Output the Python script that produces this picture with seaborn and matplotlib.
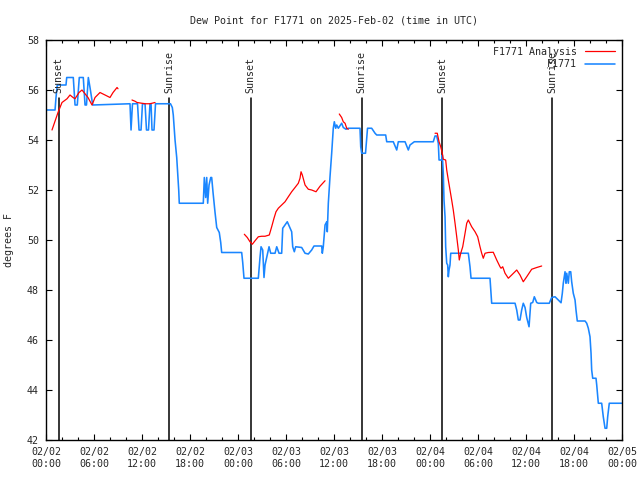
import numpy as np
import pandas as pd
import matplotlib
matplotlib.use('Agg')
import matplotlib.pyplot as plt
import matplotlib.dates as mdates
from matplotlib.lines import Line2D
import seaborn as sns

# hours since 2025-02-02 00:00 UTC
obs_hours = [0.0, 1.13, 1.25, 1.41, 2.5, 2.59, 3.41, 3.63, 3.91, 4.16, 4.66, 4.88, 5.06, 5.29, 5.5, 5.84,
             10.5, 10.63, 10.81, 11.44, 11.63, 11.88, 12.06, 12.38, 12.56, 12.81, 13.0, 13.13, 13.25, 13.5,
             13.69, 15.56, 15.79, 15.91, 16.13, 16.34, 16.46, 16.59, 16.66, 19.66, 19.79, 19.96, 20.09,
             20.21, 20.38, 20.59, 20.71, 20.88, 21.13, 21.34, 21.66, 21.84, 21.96, 24.46, 24.59, 24.75,
             26.54, 26.75, 26.88, 27.09, 27.25, 27.38, 27.59, 27.88, 28.09, 28.63, 28.84, 29.13, 29.46,
             29.59, 29.88, 30.16, 30.41, 30.71, 30.84, 31.04, 31.21, 31.96, 32.38, 32.79, 33.21, 33.5,
             34.46, 34.54, 34.66, 34.88, 35.09, 35.16, 35.29, 35.5, 35.71, 35.91, 36.04, 36.21, 36.34,
             36.54, 36.75, 36.96, 37.16, 37.5, 37.79, 39.25, 39.34, 39.46, 39.94, 40.19, 40.71, 41.13,
             41.34, 42.46, 42.59, 43.41, 43.84, 44.04, 44.88, 45.29, 45.5, 46.04, 48.41, 48.63, 48.84,
             49.04, 49.13, 49.46, 49.54, 49.66, 49.75, 49.88, 49.96, 50.09, 50.21, 50.29, 50.38, 50.5,
             50.59, 52.79, 53.0, 53.13, 55.5, 55.71, 58.63, 58.84, 59.04, 59.25, 59.46, 59.66, 59.88,
             60.09, 60.38, 60.59, 60.84, 61.04, 61.34, 61.54, 62.91, 63.21, 63.63, 64.04, 64.38, 64.54,
             64.66, 64.88, 65.0, 65.09, 65.29, 65.41, 65.59, 65.71, 65.91, 66.13, 66.25, 66.41, 67.38,
             67.59, 67.79, 68.0, 68.13, 68.21, 68.34, 68.75, 68.84, 69.04, 69.46, 69.66, 69.88, 70.09,
             70.21, 70.41, 72.0]
obs_dewpt = [55.2, 55.2, 55.7, 56.2, 56.2, 56.5, 56.5, 55.4, 55.4, 56.5, 56.5, 55.4, 55.4, 56.5, 56.1, 55.4,
             55.45, 54.4, 55.45, 55.45, 54.4, 54.4, 55.45, 55.45, 54.4, 54.4, 55.45, 55.45, 54.4, 54.4,
             55.45, 55.45, 55.3, 55.0, 54.0, 53.3, 52.7, 52.0, 51.47, 51.47, 52.5, 51.7, 52.5,
             51.47, 52.2, 52.5, 52.5, 51.9, 51.1, 50.5, 50.3, 49.9, 49.5, 49.5, 49.1, 48.47,
             48.47, 49.3, 49.73, 49.6, 48.5, 49.0, 49.3, 49.73, 49.47, 49.47, 49.73, 49.47, 49.47,
             50.47, 50.6, 50.73, 50.55, 50.33, 49.73, 49.53, 49.73, 49.7, 49.47, 49.44, 49.6, 49.76,
             49.76, 49.47, 49.73, 50.6, 50.73, 50.33, 51.47, 52.53, 53.47, 54.47, 54.73, 54.47, 54.6,
             54.47, 54.57, 54.67, 54.5, 54.43, 54.47, 54.47, 53.73, 53.47, 53.47, 54.47, 54.47, 54.27,
             54.2, 54.2, 53.93, 53.93, 53.6, 53.93, 53.93, 53.6, 53.8, 53.93, 53.93, 54.16, 54.16,
             53.87, 53.2, 53.2, 53.4, 52.67, 51.6, 50.93, 49.73, 49.07, 49.0, 48.53, 48.8, 49.0,
             49.47, 49.47, 48.93, 48.47, 48.47, 47.47, 47.47, 47.2, 46.8, 46.8, 47.2, 47.47, 47.3,
             46.9, 46.53, 47.47, 47.5, 47.73, 47.5, 47.47, 47.47, 47.7, 47.73, 47.6, 47.49, 47.87,
             48.27, 48.73, 48.27, 48.67, 48.27, 48.73, 48.73, 48.33, 47.87, 47.6, 47.2, 46.76, 46.76,
             46.67, 46.47, 46.13, 45.47, 44.8, 44.47, 44.47, 44.2, 43.47, 43.47, 42.93, 42.47, 42.47,
             42.93, 43.47, 43.47]

# analysis series, NaN marks a gap
ana_hours = [0.75, 1.5, 2.0, 2.63, 3.0, 3.38, 3.63, 4.13, 4.5, 5.25, 5.75, 6.13, 6.75, 7.38, 8.0, 8.38,
             8.88, 9.0, np.nan,
             10.75, 11.13, 11.38, 12.38, 13.0, 13.63, np.nan,
             24.79, 25.16, 25.5, 25.79, 26.13, 26.54, 26.96, 27.38, 27.91, 28.21, 28.5, 28.75, 29.04,
             29.46, 29.88, 30.29, 30.71, 31.13, 31.54, 31.75, 31.88, 32.04, 32.38, 32.79, 33.21, 33.75,
             34.25, 34.88, np.nan,
             36.66, 36.96, 37.16, 37.38, 37.59, 37.79, np.nan,
             48.63, 48.91, 49.13, 49.34, 49.54, 49.66, 49.96, 50.09, 50.29, 50.5, 50.71, 50.91, 51.13,
             51.34, 51.54, 51.66, 51.84, 52.09, 52.38, 52.59, 52.79, 53.21, 53.63, 53.96, 54.25, 54.46,
             54.66, 54.88, 55.29, 55.91, 56.34, 56.75, 56.88, 57.09, 57.38, 57.79, 58.21, 58.84, 59.25,
             59.66, 60.09, 60.71, 61.34, 61.96]
ana_dewpt = [54.4, 55.1, 55.5, 55.65, 55.8, 55.7, 55.65, 55.9, 56.0, 55.7, 55.4, 55.7, 55.9, 55.8, 55.7, 55.9,
             56.1, 56.05, np.nan,
             55.6, 55.55, 55.5, 55.45, 55.45, 55.5, np.nan,
             50.23, 50.1, 49.93, 49.83, 49.97, 50.13, 50.15, 50.15, 50.2, 50.53, 50.87, 51.13, 51.27,
             51.4, 51.53, 51.73, 51.93, 52.1, 52.27, 52.47, 52.73, 52.6, 52.2, 52.03, 52.0, 51.93,
             52.15, 52.37, np.nan,
             55.04, 54.9, 54.73, 54.67, 54.47, 54.43, np.nan,
             54.27, 54.27, 53.93, 53.73, 53.47, 53.23, 53.2, 52.8, 52.4, 52.0, 51.6, 51.2, 50.67,
             50.13, 49.6, 49.2, 49.47, 49.73, 50.27, 50.67, 50.8, 50.53, 50.33, 50.13, 49.73, 49.47,
             49.27, 49.47, 49.5, 49.51, 49.2, 48.93, 48.87, 48.93, 48.67, 48.47, 48.6, 48.8, 48.6,
             48.33, 48.53, 48.83, 48.9, 48.96]

event_labels = ['Sunset', 'Sunrise', 'Sunset', 'Sunrise', 'Sunset', 'Sunrise']
event_hours = [1.6, 15.42, 25.59, 39.46, 49.54, 63.29]

t0 = pd.Timestamp('2025-02-02 00:00')

obs = pd.DataFrame({'time': t0 + pd.to_timedelta(obs_hours, unit='h'), 'dewpt': obs_dewpt})
ana = pd.DataFrame({'hours': ana_hours, 'dewpt': ana_dewpt})
ana['seg'] = ana['hours'].isna().cumsum()
ana = ana.dropna()
ana['time'] = t0 + pd.to_timedelta(ana['hours'], unit='h')

sns.set_style('ticks')
plt.rcParams['font.family'] = ['DejaVu Sans Mono']
plt.rcParams['font.size'] = 7.2

blue = '#1a86ff'
fig = plt.figure(figsize=(6.4, 4.8), dpi=100)
ax = fig.add_axes([46 / 640, 40 / 480, 576 / 640, 400 / 480])

sns.lineplot(data=obs, x='time', y='dewpt', color=blue, linewidth=1.15, ax=ax, zorder=2)
sns.lineplot(data=ana, x='time', y='dewpt', units='seg', estimator=None, color='red',
             linewidth=0.9, ax=ax, zorder=3)

for lab, h in zip(event_labels, event_hours):
    t = t0 + pd.Timedelta(hours=h)
    ax.plot([t, t], [42, 55.7], color='black', linewidth=1.1, zorder=1)
    ax.text(t, 55.88, lab, rotation=90, ha='center', va='bottom', fontsize=7.2)

ax.set_xlim(t0, t0 + pd.Timedelta(hours=72))
ax.set_ylim(42, 58)
ax.set_yticks(np.arange(42, 59, 2))
ax.xaxis.set_major_locator(mdates.HourLocator(byhour=[0, 6, 12, 18]))
ax.xaxis.set_minor_locator(mdates.HourLocator(interval=2))
ax.xaxis.set_major_formatter(mdates.DateFormatter('%m/%d\n%H:%M'))

for s in ax.spines.values():
    s.set_visible(True)
    s.set_color('black')
    s.set_linewidth(1.0)
ax.tick_params(which='both', direction='in', top=True, right=True, labelsize=7.2, color='black')
ax.tick_params(which='major', length=4.5, width=0.8, pad=5)
ax.tick_params(which='minor', length=2.5, width=0.8)

ax.set_xlabel('')
ax.set_ylabel('degrees F', fontsize=7.2)
ax.yaxis.set_label_coords(-0.055, 0.5)
ax.set_title('Dew Point for F1771 on 2025-Feb-02 (time in UTC)', fontsize=7.2, pad=12)

handles = [Line2D([], [], color='red', linewidth=0.9), Line2D([], [], color=blue, linewidth=1.15)]
ax.legend(handles, ['F1771 Analysis', 'F1771'], loc='upper right', frameon=False, markerfirst=False,
          handlelength=3.0, labelspacing=0.25, borderaxespad=0.3, handletextpad=0.8, fontsize=7.2)

fig.savefig('out.png', dpi=100)
